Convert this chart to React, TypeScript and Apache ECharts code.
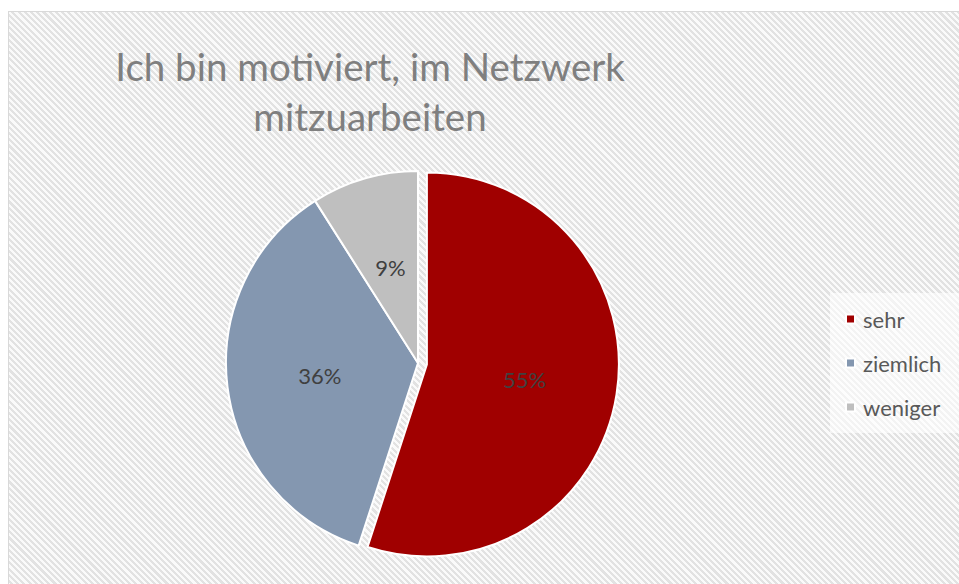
import React, { useEffect, useRef } from "react";
import * as echarts from "echarts";

const titleLines = ["Ich bin motiviert, im Netzwerk", "mitzuarbeiten"];
const categories = ["sehr", "ziemlich", "weniger"];
const values = [55, 36, 9];
const colors = ["#a00000", "#8497b0", "#bfbfbf"];

export default function App() {
  const ref = useRef<HTMLDivElement>(null);

  useEffect(() => {
    if (!ref.current) return;
    const chart = echarts.init(ref.current, undefined, { renderer: "svg" });
    chart.setOption({
      animation: false,
      backgroundColor: "transparent",
      title: {
        text: titleLines.join("\n"),
        left: 356,
        top: 24,
        textAlign: "center",
        textStyle: {
          fontFamily: "Lato",
          fontWeight: "normal",
          fontSize: 38.5,
          lineHeight: 50,
          color: "#7f7f7f",
        },
      },
      legend: {
        orient: "vertical",
        left: 821,
        top: 281,
        icon: "rect",
        itemWidth: 9,
        itemHeight: 9,
        itemGap: 20,
        padding: [14, 30, 14, 15],
        backgroundColor: "rgba(255,255,255,0.6)",
        selectedMode: false,
        data: categories,
        textStyle: {
          fontFamily: "Lato",
          fontSize: 22,
          lineHeight: 24,
          color: "#595959",
          padding: [0, 0, 0, 3],
        },
      },
      series: [
        {
          type: "pie",
          center: [409, 351],
          radius: 192,
          startAngle: 90,
          clockwise: true,
          selectedMode: "single",
          selectedOffset: 9,
          percentPrecision: 0,
          itemStyle: { borderColor: "#ffffff", borderWidth: 2 },
          label: {
            show: true,
            position: "inside",
            formatter: "{d}%",
            fontFamily: "Lato",
            fontSize: 22,
            color: "#404040",
          },
          labelLine: { show: false },
          emphasis: { disabled: true },
          data: categories.map((c, i) => ({
            name: c,
            value: values[i],
            selected: i === 0,
            itemStyle: { color: colors[i] },
          })),
        },
      ],
    });
    return () => chart.dispose();
  }, []);

  return (
    <div style={{ position: "absolute", left: 0, top: 0, width: 959, height: 584, background: "#ffffff", overflow: "hidden" }}>
      <div
        style={{
          position: "absolute",
          left: 8,
          top: 11,
          width: 960,
          height: 580,
          borderLeft: "1.5px solid #d9d9d9",
          borderTop: "1.5px solid #d9d9d9",
          background:
            "repeating-linear-gradient(45deg, #fafafa 0px, #fafafa 2.2px, #e2e2e2 2.2px, #e2e2e2 4.4px)",
        }}
      >
        <div ref={ref} style={{ width: 960, height: 580 }} />
      </div>
    </div>
  );
}
